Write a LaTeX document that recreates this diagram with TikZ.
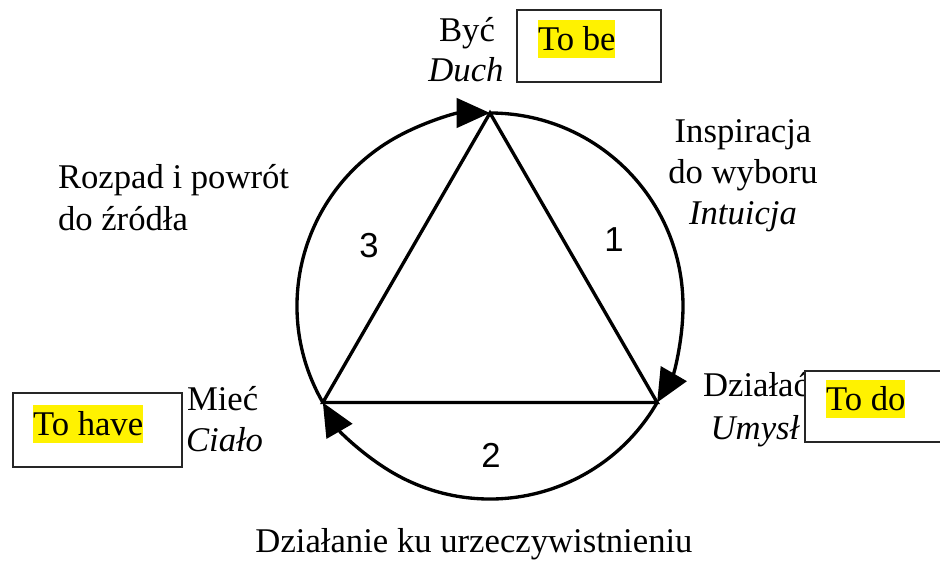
\documentclass[tikz,border=0pt]{standalone}
\usepackage{fontspec}
\setmainfont{Liberation Serif}
\newfontfamily\digitfont{Liberation Sans}
\usetikzlibrary{arrows.meta,calc}
\tikzset{
  x=0.75pt, y=0.75pt,
  every node/.style={inner sep=0pt, outer sep=0pt},
  lbl/.style={font=\fontsize{26pt}{30pt}\selectfont, anchor=base},
  lblw/.style={lbl, anchor=base west},
  num/.style={font=\digitfont\fontsize{26pt}{30pt}\selectfont, anchor=base},
  hl/.style={lblw, fill=yellow, text height=23.2pt, text depth=5.6pt},
  boxnode/.style={draw=black!85, line width=1.5pt, fill=white, rectangle},
  ring/.style={line width=2.5pt},
  arc arrow/.style={ring, -{Triangle[length=25pt,width=22pt]}},
  edge line/.style={line width=2.5pt, line cap=round}
}
\begin{document}
\begin{tikzpicture}
\useasboundingbox (0,0) rectangle (940,561);
\clip (0,0) rectangle (940,561);
% geometry
\coordinate (C) at (490,255);
\coordinate (T) at ($(C)+(90:193)$);
\coordinate (L) at ($(C)+(210:193)$);
\coordinate (R) at ($(C)+(-30:193)$);
% triangle
\draw[edge line] (T) -- (R) -- (L) -- cycle;
% circle arcs with arrows
\draw[arc arrow] (L) arc[start angle=210, end angle=90, radius=193];
\draw[arc arrow] (T) arc[start angle=90, end angle=-30, radius=193];
\draw[arc arrow] (R) arc[start angle=-30, end angle=-150, radius=193];
% numbers
\node[num] (n3) at (369,303) {3};
\node[num] (n1) at (614,309) {1};
\node[num] (n2) at (491,93) {2};
% top labels
\node[lbl] (byc) at (467,519) {Być};
\node[lbl] (duch) at (466,479) {\itshape Duch};
\node[boxnode, minimum width=108pt, minimum height=54pt] (tobebox) at (589,515) {};
\node[hl] (tobe) at (538,510.5) {To be};
% right upper labels
\node[lbl] (insp1) at (743,418) {Inspiracja};
\node[lbl] (insp2) at (743,377) {do wyboru};
\node[lbl] (insp3) at (743,336) {\itshape Intuicja};
% left upper labels
\node[lblw] (roz1) at (58,372) {Rozpad i powrót};
\node[lblw] (roz2) at (58,330) {do źródła};
% left lower labels
\node[lblw] (miec) at (187,150) {Mieć};
\node[lblw] (cialo) at (186,109) {\itshape Ciało};
\node[boxnode, minimum width=126.75pt, minimum height=55.5pt] (tohavebox) at (97.5,131) {};
\node[hl] (tohave) at (33,125.3) {To have};
% right lower labels
\node[lbl] (dzialac) at (756,164) {Działać};
\node[lbl] (umysl) at (755,121) {\itshape Umysł};
\node[boxnode, minimum width=112.5pt, minimum height=53.25pt] (todobox) at (880,154.5) {};
\node[hl] (todo) at (826,150.3) {To do};
% bottom label
\node[lbl] (dzialanie) at (474,8) {Działanie ku urzeczywistnieniu};
\end{tikzpicture}
\end{document}
